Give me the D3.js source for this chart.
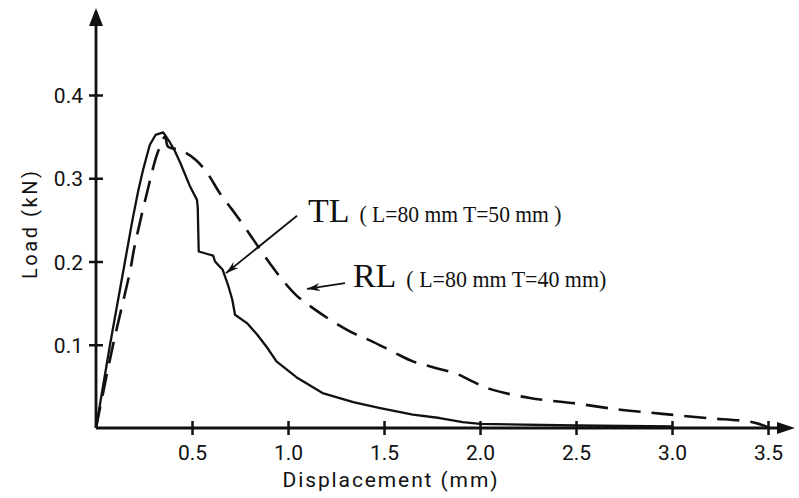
<!DOCTYPE html>
<html>
<head>
<meta charset="utf-8">
<script src="https://cdn.jsdelivr.net/npm/d3@7"></script>
<style>
  body { margin: 0; background: #fff; }
  svg { display: block; }
</style>
</head>
<body>
<div id="chart"></div>
<script>
// TL curve (solid): displacement (mm) / load (kN)
var tlDisp = [0, 0.073, 0.151, 0.19, 0.22, 0.245, 0.28, 0.31, 0.35, 0.38, 0.41, 0.44, 0.49, 0.526, 0.53, 0.535, 0.58, 0.61, 0.62, 0.66, 0.69, 0.71, 0.724, 0.786, 0.84, 0.89, 0.94, 1.05, 1.18, 1.34, 1.48, 1.65, 1.79, 1.91, 2.0, 2.5, 3.0];
var tlLoad = [0, 0.1, 0.2, 0.25, 0.285, 0.31, 0.34, 0.352, 0.355, 0.345, 0.333, 0.318, 0.29, 0.274, 0.264, 0.212, 0.209, 0.207, 0.2, 0.19, 0.17, 0.154, 0.136, 0.126, 0.112, 0.097, 0.08, 0.06, 0.042, 0.031, 0.024, 0.016, 0.012, 0.007, 0.005, 0.003, 0.002];

// RL curve (dashed)
var rlDisp = [0, 0.089, 0.177, 0.2, 0.265, 0.32, 0.36, 0.375, 0.4375, 0.52, 0.58, 0.645, 0.71, 0.785, 0.85, 0.905, 0.96, 1.045, 1.13, 1.22, 1.34, 1.43, 1.55, 1.65, 1.755, 1.88, 1.96, 2.05, 2.26, 2.48, 2.73, 2.95, 3.18, 3.42, 3.5];
var rlLoad = [0, 0.1, 0.188, 0.217, 0.282, 0.33, 0.35, 0.338, 0.334, 0.322, 0.306, 0.282, 0.262, 0.238, 0.216, 0.198, 0.181, 0.159, 0.144, 0.13, 0.114, 0.105, 0.091, 0.08, 0.073, 0.065, 0.056, 0.047, 0.036, 0.03, 0.022, 0.017, 0.012, 0.007, 0.001];

var xTicks = [0.5, 1.0, 1.5, 2.0, 2.5, 3.0, 3.5];
var yTicks = [0.1, 0.2, 0.3, 0.4];

var width = 799, height = 498;
var margin = {top: 95, right: 31, bottom: 70, left: 96};
var ink = "#111";

var svg = d3.select("#chart")
  .append("svg")
    .attr("width", width)
    .attr("height", height);

var x = d3.scaleLinear()
  .domain([0, 3.5])
  .range([margin.left, width - margin.right]);
var y = d3.scaleLinear()
  .domain([0, 0.4])
  .range([height - margin.bottom, margin.top]);

// arrowhead for the labels
svg.append("defs").append("marker")
    .attr("id", "tip")
    .attr("markerUnits", "userSpaceOnUse")
    .attr("viewBox", "0 0 13 8")
    .attr("refX", 13).attr("refY", 4)
    .attr("markerWidth", 13).attr("markerHeight", 8)
    .attr("orient", "auto")
  .append("path")
    .attr("d", "M0,0 L13,4 L0,8 L4,4 Z")
    .attr("fill", ink);

// X axis
var xAxis = svg.append("g")
  .attr("transform", "translate(0," + y(0) + ")")
  .call(d3.axisBottom(x).tickValues(xTicks).tickFormat(d3.format(".1f")).tickSizeInner(7).tickSizeOuter(0));
xAxis.select(".domain").remove();
xAxis.selectAll(".tick line")
  .attr("y1", -7).attr("y2", 7)
  .attr("stroke", ink).attr("stroke-width", 2.5);
xAxis.selectAll(".tick text")
  .attr("y", 32).attr("dy", 0)
  .attr("fill", ink)
  .style("font-family", "Roboto, sans-serif")
  .style("font-size", "21px");

// Y axis
var yAxis = svg.append("g")
  .attr("transform", "translate(" + x(0) + ",0)")
  .call(d3.axisLeft(y).tickValues(yTicks).tickFormat(d3.format(".1f")).tickSizeInner(7).tickSizeOuter(0));
yAxis.select(".domain").remove();
yAxis.selectAll(".tick line")
  .attr("x1", -7).attr("x2", 7)
  .attr("stroke", ink).attr("stroke-width", 2.5);
yAxis.selectAll(".tick text")
  .attr("x", -13).attr("dy", "0.36em")
  .attr("fill", ink)
  .style("font-family", "Roboto, sans-serif")
  .style("font-size", "21px");

// axis lines with arrows
var xEnd = x.range()[1] + 27, yEnd = 8;
svg.append("line")
  .attr("x1", x(0)).attr("y1", y(0)).attr("x2", xEnd - 10).attr("y2", y(0))
  .attr("stroke", ink).attr("stroke-width", 2.8);
svg.append("path")
  .attr("d", "M" + xEnd + "," + y(0) + " L" + (xEnd - 18) + "," + (y(0) - 6) + " L" + (xEnd - 18) + "," + (y(0) + 6) + " Z")
  .attr("fill", ink);
svg.append("line")
  .attr("x1", x(0)).attr("y1", y(0)).attr("x2", x(0)).attr("y2", yEnd + 10)
  .attr("stroke", ink).attr("stroke-width", 2.8);
svg.append("path")
  .attr("d", "M" + x(0) + "," + yEnd + " L" + (x(0) - 7) + "," + (yEnd + 18) + " L" + (x(0) + 7) + "," + (yEnd + 18) + " Z")
  .attr("fill", ink);

// axis titles
svg.append("text")
  .attr("x", 390).attr("y", 487)
  .attr("text-anchor", "middle")
  .attr("textLength", 215)
  .attr("fill", ink)
  .style("font-family", "Roboto, sans-serif")
  .style("font-size", "21px")
  .text("Displacement (mm)");

svg.append("text")
  .attr("transform", "translate(37,225) rotate(-90)")
  .attr("text-anchor", "middle")
  .attr("textLength", 108)
  .attr("fill", ink)
  .style("font-family", "Roboto, sans-serif")
  .style("font-size", "20px")
  .text("Load (kN)");

// curves
var line = d3.line()
  .x(function(d) { return x(d[0]); })
  .y(function(d) { return y(d[1]); });

svg.append("path")
  .datum(d3.zip(rlDisp, rlLoad))
  .attr("d", line.curve(d3.curveCatmullRom.alpha(0.5)))
  .attr("fill", "none")
  .attr("stroke", ink)
  .attr("stroke-width", 2.6)
  .attr("stroke-dasharray", "22,11");

svg.append("path")
  .datum(d3.zip(tlDisp, tlLoad))
  .attr("d", line.curve(d3.curveLinear))
  .attr("fill", "none")
  .attr("stroke", ink)
  .attr("stroke-width", 2.3)
  .attr("stroke-linejoin", "round");

// labels with arrows (positions in data units)
function arrow(from, to) {
  svg.append("line")
    .attr("x1", x(from[0])).attr("y1", y(from[1]))
    .attr("x2", x(to[0])).attr("y2", y(to[1]))
    .attr("stroke", ink).attr("stroke-width", 1.8)
    .attr("marker-end", "url(#tip)");
}
arrow([1.047, 0.255], [0.677, 0.186]);
arrow([1.297, 0.174], [1.099, 0.167]);

function label(pos, big, small, smallLen) {
  var t = svg.append("text")
    .attr("x", x(pos[0])).attr("y", y(pos[1]))
    .attr("fill", ink)
    .style("font-family", "'Liberation Serif', 'Times New Roman', serif");
  t.append("tspan").style("font-size", "34px").text(big);
  t.append("tspan").attr("dx", 10).style("font-size", "23px")
    .attr("textLength", smallLen)
    .attr("lengthAdjust", "spacingAndGlyphs")
    .text(small);
}
label([1.104, 0.247], "TL", "( L=80 mm T=50 mm )", 202);
label([1.338, 0.169], "RL", "( L=80 mm T=40 mm)", 200);
</script>
</body>
</html>
